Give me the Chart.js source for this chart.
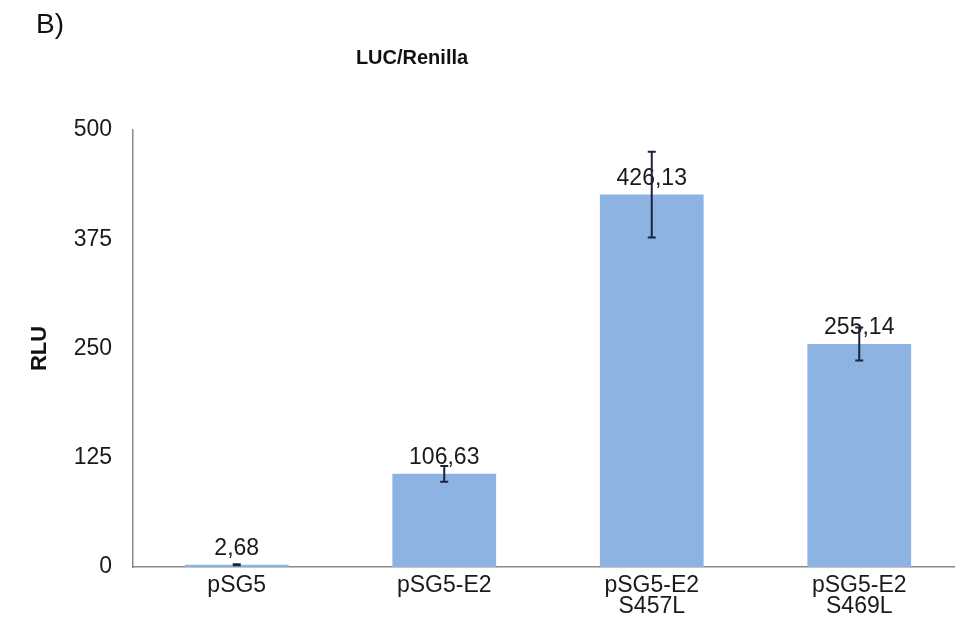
<!DOCTYPE html>
<html>
<head>
<meta charset="utf-8">
<script src="https://cdn.jsdelivr.net/npm/chart.js@4.4.1/dist/chart.umd.min.js"></script>
<style>
  html, body { margin: 0; padding: 0; background: #fff; overflow: hidden; }
  #wrap { position: relative; width: 965px; height: 630px; }
</style>
</head>
<body>
<div id="wrap"><canvas id="lucChart" width="965" height="630"></canvas></div>
<script>
// Dati
var categories = [["pSG5"], ["pSG5-E2"], ["pSG5-E2", "S457L"], ["pSG5-E2", "S469L"]];
var rluValues = [2.68, 106.63, 426.13, 255.14];
var rluErrors = [0.6, 9, 49, 19];
var yTicks = [0, 125, 250, 375, 500];

var FONT = "'Liberation Sans', Arial, sans-serif";

// etichette sopra le barre + barre d'errore
var barExtras = {
    id: "barExtras",
    afterDatasetsDraw: function (chart) {
        var ctx = chart.ctx;
        var meta = chart.getDatasetMeta(0);
        var y = chart.scales.y;
        ctx.save();
        ctx.font = "23px " + FONT;
        ctx.fillStyle = "#1a1a1a";
        ctx.textAlign = "center";
        ctx.textBaseline = "alphabetic";
        meta.data.forEach(function (bar, i) {
            ctx.fillText(rluValues[i].toFixed(2).replace(".", ","), bar.x, bar.y - 10);
        });
        ctx.strokeStyle = "#1c2340";
        ctx.lineWidth = 2;
        meta.data.forEach(function (bar, i) {
            var top = y.getPixelForValue(rluValues[i] + rluErrors[i]);
            var bot = y.getPixelForValue(rluValues[i] - rluErrors[i]);
            ctx.beginPath();
            ctx.moveTo(bar.x, top); ctx.lineTo(bar.x, bot);
            ctx.moveTo(bar.x - 4, top); ctx.lineTo(bar.x + 4, top);
            ctx.moveTo(bar.x - 4, bot); ctx.lineTo(bar.x + 4, bot);
            ctx.stroke();
        });
        ctx.restore();
    },
    afterDraw: function (chart) {
        var ctx = chart.ctx;
        ctx.save();
        ctx.fillStyle = "#111";
        ctx.textBaseline = "middle";
        ctx.textAlign = "left";
        ctx.font = "28px " + FONT;
        ctx.fillText("B)", 36, 25);
        ctx.textAlign = "center";
        ctx.font = "bold 20px " + FONT;
        ctx.fillText("LUC/Renilla", 412, 58);
        ctx.restore();
    }
};

var ctx = document.getElementById("lucChart").getContext("2d");
var lucChart = new Chart(ctx, {
    type: "bar",
    data: {
        labels: categories,
        datasets: [
            {
                label: "LUC/Renilla",
                data: rluValues,
                backgroundColor: "#8db3e2",
                borderWidth: 0,
                barPercentage: 0.5,
                categoryPercentage: 1.0,
            },
        ],
    },
    options: {
        responsive: false,
        animation: false,
        layout: { padding: { top: 130, right: 2, left: 0, bottom: 0 } },
        plugins: {
            legend: { display: false },
            title: { display: false },
            tooltip: { enabled: false },
        },
        scales: {
            x: {
                grid: { display: false, drawTicks: false },
                border: { display: true, color: "#8a8a8a", width: 1.5 },
                ticks: {
                    color: "#1a1a1a",
                    padding: 9,
                    maxRotation: 0,
                    autoSkip: false,
                    font: { family: FONT, size: 23, lineHeight: 0.88 },
                },
                afterFit: function (scale) { scale.height = 63; },
            },
            y: {
                min: 0,
                max: 500,
                afterBuildTicks: function (scale) {
                    scale.ticks = yTicks.map(function (v) { return { value: v }; });
                },
                grid: { display: false, drawTicks: false },
                border: { display: true, color: "#8a8a8a", width: 1.5 },
                ticks: {
                    color: "#1a1a1a",
                    padding: 21,
                    font: { family: FONT, size: 23 },
                },
                title: {
                    display: true,
                    text: "RLU",
                    color: "#111",
                    font: { family: FONT, size: 22, weight: "bold" },
                    padding: { top: 27, bottom: 0 },
                },
                afterFit: function (scale) { scale.width = 133; },
            },
        },
    },
    plugins: [barExtras],
});
</script>
</body>
</html>
